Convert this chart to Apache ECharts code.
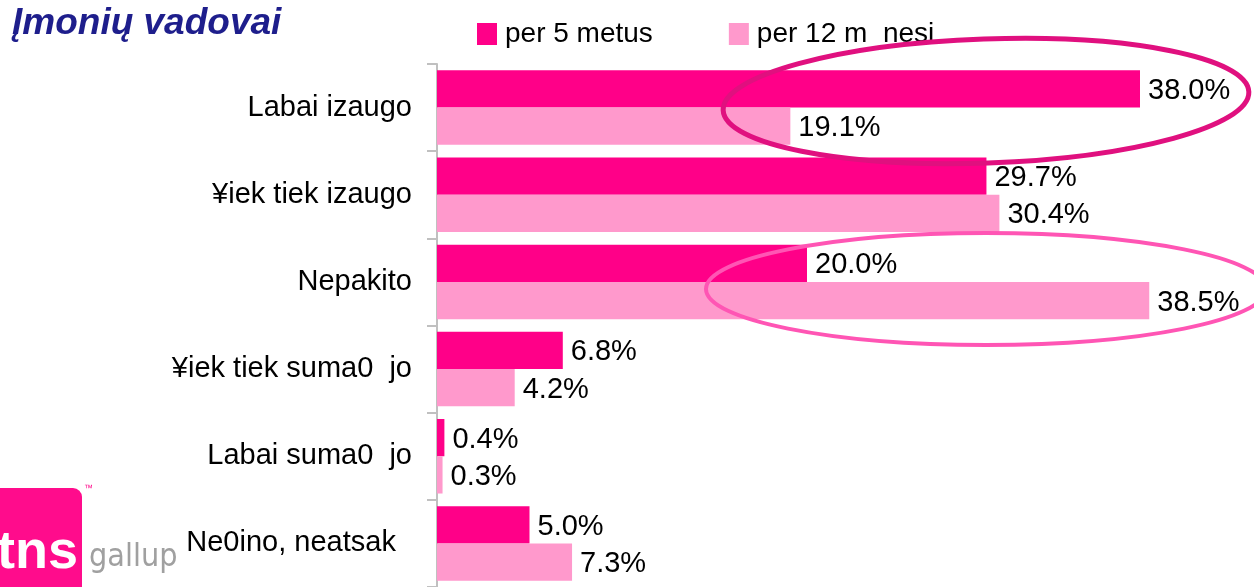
<!DOCTYPE html>
<html><head><meta charset="utf-8">
<script src="https://cdn.jsdelivr.net/npm/echarts@6/dist/echarts.min.js"></script>
<style>html,body{margin:0;padding:0;background:#fff}#c{width:1254px;height:587px}</style>
</head><body><div id="c"></div>
<script>
const categories = ['Labai izaugo', '\u00A5iek tiek izaugo', 'Nepakito', '\u00A5iek tiek suma0  jo', 'Labai suma0  jo', 'Ne0ino, neatsak  '];
const seriesNames = ['per 5 metus', 'per 12 m  nesi'];
const per5Years = [38.0, 29.7, 20.0, 6.8, 0.4, 5.0];
const per12Months = [19.1, 30.4, 38.5, 4.2, 0.3, 7.3];
const titleText = '\u012Emoni\u0173 vadovai';

const FONT = '"Liberation Sans", Arial, sans-serif';
const chart = echarts.init(document.getElementById('c'), null, {renderer: 'canvas'});
const labelCfg = {show: true, position: 'right', distance: 8, color: '#000', fontSize: 29, fontFamily: FONT,
  offset: [0, 2], formatter: p => p.value.toFixed(1) + '%'};
chart.setOption({
  animation: false,
  backgroundColor: '#fff',
  title: {text: titleText, left: 12, top: 5, padding: 0,
    textStyle: {fontSize: 37, fontWeight: 'bold', fontStyle: 'italic', color: '#1e1e8c', fontFamily: FONT}},
  legend: {left: 477, top: 20, padding: 0, itemWidth: 20, itemHeight: 22, itemGap: 76, icon: 'rect',
    textStyle: {fontSize: 28, color: '#000', fontFamily: FONT, padding: [2, 0, 0, 3]}},
  grid: {left: 437, right: 77, top: 64, bottom: -3, containLabel: false},
  xAxis: {type: 'value', min: 0, max: 40, show: false, splitLine: {show: false}},
  yAxis: {type: 'category', data: categories, inverse: true,
    axisLine: {show: true, lineStyle: {color: '#c0c0c0', width: 2}},
    axisTick: {show: true, length: 10, lineStyle: {color: '#c0c0c0', width: 2}},
    axisLabel: {fontSize: 29, color: '#000', fontFamily: FONT, margin: 25, padding: [6, 0, 0, 0]}},
  series: [
    {name: seriesNames[0], type: 'bar', data: per5Years, barGap: '0%', barCategoryGap: '14.5%',
      itemStyle: {color: '#ff0088'}, label: labelCfg},
    {name: seriesNames[1], type: 'bar', data: per12Months, barGap: '0%', barCategoryGap: '14.5%',
      itemStyle: {color: '#ff99cc'}, label: labelCfg}
  ],
  graphic: [
    {type: 'ellipse', shape: {cx: 0, cy: 0, rx: 263, ry: 62}, x: 986, y: 101, rotation: 0.035, z: 100,
      style: {fill: 'none', stroke: '#e0107f', lineWidth: 5}},
    {type: 'ellipse', shape: {cx: 0, cy: 0, rx: 280, ry: 56}, x: 986, y: 289, rotation: 0.0, z: 100,
      style: {fill: 'none', stroke: '#ff55b4', lineWidth: 4}},
    {type: 'rect', shape: {x: 0, y: 488, width: 82, height: 110, r: [0, 9, 0, 0]}, z: 90,
      style: {fill: '#ff0c8c'}},
    {type: 'text', x: 84, y: 484, z: 91, style: {text: '\u2122', fontSize: 9, fill: '#ff0c8c', fontFamily: FONT}},
    {type: 'text', x: -3, y: 526, z: 91, style: {text: 'tns', fontSize: 54, fontWeight: 'bold', fill: '#fff', fontFamily: FONT}},
    {type: 'text', x: 89, y: 542, z: 91, style: {text: 'gallup', fontSize: 32, fill: '#a0a0a0', fontFamily: '"Liberation Sans Narrow", "DejaVu Sans Condensed", sans-serif'}}
  ]
});
</script></body></html>
